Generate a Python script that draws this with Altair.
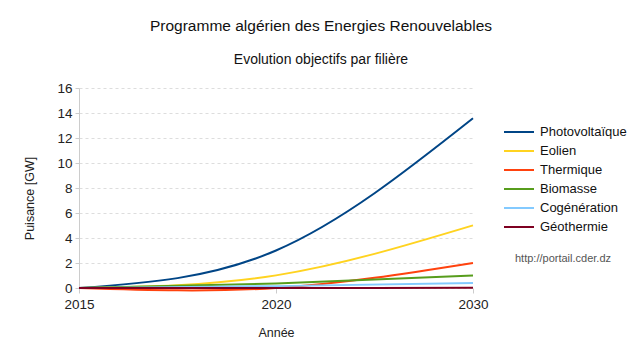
import altair as alt
import pandas as pd

years = ["2015", "2020", "2030"]
series = ["Photovoltaïque", "Eolien", "Thermique", "Biomasse", "Cogénération", "Géothermie"]
photovoltaique = [0.0, 3.0, 13.575]
eolien = [0.0, 1.01, 5.01]
thermique = [0.0, 0.0, 2.0]
biomasse = [0.0, 0.36, 1.0]
cogeneration = [0.0, 0.15, 0.4]
geothermie = [0.0, 0.005, 0.015]
colors = ["#004586", "#ffd320", "#ff420e", "#579d1c", "#83caff", "#7e0021"]

values = [photovoltaique, eolien, thermique, biomasse, cogeneration, geothermie]
rows = []
for name, vals in zip(series, values):
    for y, v in zip(years, vals):
        rows.append({"Année": y, "Filière": name, "GW": v})
df = pd.DataFrame(rows)

FONT = "Liberation Sans"

lines = alt.Chart(df).mark_line(interpolate="natural", strokeWidth=2).encode(
    x=alt.X("Année:O", sort=years,
            scale=alt.Scale(type="point", padding=0),
            axis=alt.Axis(title="Année", labelAngle=0, labelFontSize=13.5, labelColor="#222",
                          labelPadding=4, titleFontSize=12.5, titleFontWeight="normal",
                          titlePadding=16, titleColor="#222", domain=False,
                          tickColor="#cccccc", tickSize=5, grid=False,
                          labelFont=FONT, titleFont=FONT)),
    y=alt.Y("GW:Q", scale=alt.Scale(domain=[0, 16], nice=False),
            axis=alt.Axis(title="Puisance [GW]", values=list(range(0, 17, 2)),
                          labelFontSize=13.5, labelColor="#222", labelPadding=3,
                          titleFontSize=12.5, titleFontWeight="normal", titleColor="#222",
                          titlePadding=20, titleY=110, domainColor="#cccccc", tickColor="#cccccc",
                          tickSize=4, gridColor="#dddddd", gridDash=[3, 3],
                          labelFont=FONT, titleFont=FONT)),
    color=alt.Color("Filière:N", sort=series,
                    scale=alt.Scale(domain=series, range=colors),
                    legend=alt.Legend(title=None, orient="none", legendX=424, legendY=37,
                                      symbolType="stroke", symbolStrokeWidth=2,
                                      symbolSize=900, clipHeight=14, labelFontSize=13,
                                      labelColor="#111", labelFont=FONT, rowPadding=5,
                                      labelOffset=5)),
    order=alt.Order("Année:O"),
)

src = alt.Chart(pd.DataFrame({"t": ["http://portail.cder.dz"]})).mark_text(
    font=FONT, fontSize=11, color="#555", align="left", baseline="middle"
).encode(text="t:N", x=alt.value(436), y=alt.value(171))

chart = alt.layer(lines, src).properties(
    width=394, height=200,
    autosize=alt.AutoSizeParams(type="none"),
    padding={"left": 71, "top": 80, "right": 159, "bottom": 64},
    title=alt.TitleParams(
        text="Programme algérien des Energies Renouvelables",
        subtitle="Evolution objectifs par filière",
        anchor="middle", dx=45, font=FONT, fontSize=15.5, fontWeight="normal",
        color="#111", subtitleFont=FONT, subtitleFontSize=14, subtitleColor="#111",
        subtitlePadding=19, offset=14,
    ),
).configure_view(stroke=None)

chart.save("out.html", embed_options={"renderer": "svg", "actions": False})
